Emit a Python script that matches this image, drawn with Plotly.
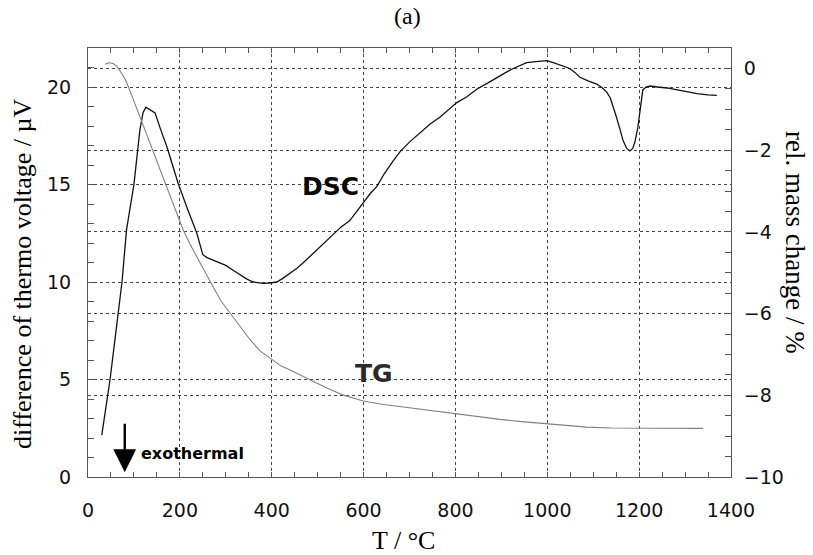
import plotly.graph_objects as go

# ---------------- data ----------------
T_dsc = [30, 41, 48, 60, 74, 84, 100, 113, 120, 126, 134, 146, 160, 172, 184, 196,
         215, 237, 244, 250, 259, 270, 287, 300, 316, 330, 346, 360, 381, 395, 411,
         425, 440, 455, 468, 483, 498, 515, 533, 550, 570, 585, 603, 615, 629, 645,
         664, 680, 701, 715, 729, 745, 766, 785, 803, 825, 847, 870, 891, 910, 926,
         940, 955, 975, 999, 1013, 1030, 1049, 1060, 1071, 1090, 1108, 1120, 1129,
         1137, 1143, 1150, 1158, 1165, 1173, 1180, 1186, 1191, 1197, 1202, 1208,
         1215, 1224, 1240, 1261, 1289, 1310, 1326, 1350, 1369]
dsc = [2.15, 3.95, 5.0, 7.3, 10.0, 12.7, 15.0, 17.8, 18.7, 18.97, 18.85, 18.67, 17.7,
       16.92, 16.0, 15.08, 13.85, 12.5, 11.9, 11.4, 11.25, 11.15, 11.0, 10.85, 10.6,
       10.4, 10.15, 10.0, 9.93, 9.95, 10.0, 10.2, 10.45, 10.7, 10.97, 11.3, 11.64,
       12.05, 12.45, 12.8, 13.15, 13.6, 14.2, 14.55, 14.9, 15.55, 16.2, 16.7, 17.2,
       17.5, 17.75, 18.1, 18.45, 18.85, 19.2, 19.5, 19.9, 20.2, 20.5, 20.75, 20.95,
       21.1, 21.25, 21.3, 21.35, 21.25, 21.1, 20.95, 20.75, 20.5, 20.3, 20.15, 19.95,
       19.75, 19.45, 19.05, 18.5, 17.85, 17.25, 16.85, 16.72, 16.85, 17.2, 17.9, 18.7,
       19.85, 20.0, 20.05, 20.0, 19.95, 19.83, 19.72, 19.66, 19.6, 19.57]

T_tg = [37, 45, 55, 63, 75, 84, 100, 113, 128, 142, 157, 172, 190, 207, 222, 237,
        250, 261, 272, 290, 316, 335, 353, 375, 400, 420, 440, 465, 490, 520, 555,
        599, 640, 680, 740, 803, 850, 897, 950, 999, 1040, 1086, 1140, 1201, 1270, 1339]
tg = [0.10, 0.14, 0.12, 0.05, -0.15, -0.34, -0.8, -1.18, -1.62, -2.06, -2.48, -2.89,
      -3.42, -3.95, -4.3, -4.62, -4.9, -5.12, -5.34, -5.7, -6.08, -6.38, -6.64, -6.92,
      -7.13, -7.28, -7.38, -7.52, -7.67, -7.82, -7.99, -8.14, -8.22, -8.28, -8.37,
      -8.45, -8.52, -8.59, -8.65, -8.7, -8.74, -8.78, -8.8, -8.8, -8.81, -8.81]

x_ticks = [0, 200, 400, 600, 800, 1000, 1200, 1400]
y_left_ticks = [0, 5, 10, 15, 20]
y_right_ticks = [-10, -8, -6, -4, -2, 0]

# ---------------- figure ----------------
W, H = 813, 555
# plot frame in window pixels: x 88..731, y 48..477
ML, MT = 88, 48
MR = W - 731
MB = H - 477

grid_col = "#444444"
line_col = "#555555"
tick_font = dict(family="DejaVu Sans", size=19, color="#111111")
serif = "Liberation Serif"

fig = go.Figure()
fig.add_trace(go.Scatter(x=T_dsc, y=dsc, mode="lines", yaxis="y",
                         line=dict(color="#111111", width=1.3), showlegend=False))
fig.add_trace(go.Scatter(x=T_tg, y=tg, mode="lines", yaxis="y2",
                         line=dict(color="#808080", width=1.1), showlegend=False))

fig.update_layout(
    width=W, height=H,
    margin=dict(l=ML, r=MR, t=MT, b=MB, autoexpand=False),
    paper_bgcolor="white", plot_bgcolor="white",
    xaxis=dict(range=[0, 1400], tickvals=x_ticks, ticks="inside", ticklen=5,
               tickcolor=line_col, showline=True, linecolor=line_col, linewidth=1,
               mirror="ticks", showgrid=True, gridcolor=grid_col, griddash="dot",
               gridwidth=1, zeroline=False, tickfont=tick_font, ticklabelstandoff=16,
               minor=dict(dtick=50, tick0=0, ticks="inside", ticklen=5,
                          tickcolor=line_col, showgrid=False)),
    yaxis=dict(range=[0, 22], tickvals=y_left_ticks, ticks="inside", ticklen=6,
               tickcolor=line_col, showline=True, linecolor=line_col, linewidth=1,
               showgrid=True, gridcolor=grid_col, griddash="dot", gridwidth=1,
               zeroline=False, tickfont=tick_font, ticklabelstandoff=12,
               minor=dict(dtick=1, tick0=0, ticks="inside", ticklen=6,
                          tickcolor=line_col, showgrid=False)),
    yaxis2=dict(range=[-10, 0.5], tickvals=y_right_ticks, overlaying="y", side="right",
                ticks="inside", ticklen=6, tickcolor=line_col, showline=True,
                linecolor=line_col, linewidth=1, showgrid=True, gridcolor=grid_col,
                griddash="dot", gridwidth=1, zeroline=False, tickfont=tick_font,
                ticklabelstandoff=8,
                minor=dict(dtick=0.5, tick0=0, ticks="inside", ticklen=6,
                           tickcolor=line_col, showgrid=False)),
)

PW = W - ML - MR
PH = H - MT - MB


def px_to_paper(px, py):
    """window pixel -> paper coordinates"""
    return (px - ML) / PW, (H - MB - py) / PH


anns = []
# panel label
x, y = px_to_paper(407, 16)
anns.append(dict(text="(a)", x=x, y=y, xref="paper", yref="paper", showarrow=False,
                 font=dict(family=serif, size=24, color="black"),
                 xanchor="center", yanchor="middle"))
# x title
x, y = px_to_paper(403, 540)
anns.append(dict(text="T / °C", x=x, y=y, xref="paper", yref="paper", showarrow=False,
                 font=dict(family=serif, size=26, color="black"),
                 xanchor="center", yanchor="middle"))
# left title
x, y = px_to_paper(22, 274)
anns.append(dict(text="difference of thermo voltage / µV", x=x, y=y, xref="paper",
                 yref="paper", showarrow=False, textangle=-90,
                 font=dict(family=serif, size=26, color="black"),
                 xanchor="center", yanchor="middle"))
# right title
x, y = px_to_paper(795, 242)
anns.append(dict(text="rel. mass change / %", x=x, y=y, xref="paper", yref="paper",
                 showarrow=False, textangle=90,
                 font=dict(family=serif, size=27, color="black"),
                 xanchor="center", yanchor="middle"))
# curve labels
anns.append(dict(text="<b>DSC</b>", x=527, y=14.9, xref="x", yref="y", showarrow=False,
                 font=dict(family="DejaVu Sans", size=25, color="#0a0a0a"),
                 xanchor="center", yanchor="middle"))
anns.append(dict(text="<b>TG</b>", x=623, y=5.33, xref="x", yref="y", showarrow=False,
                 font=dict(family="DejaVu Sans", size=25, color="#2a2a2a"),
                 xanchor="center", yanchor="middle"))
# exothermal arrow and text
anns.append(dict(text="", x=80, y=0.25, xref="x", yref="y", showarrow=True,
                 ax=0, ay=-50, axref="pixel", ayref="pixel", arrowhead=2,
                 arrowsize=1.9, arrowwidth=2.4, arrowcolor="black"))
anns.append(dict(text="<b>exothermal</b>", x=111, y=1.18, xref="x", yref="y",
                 showarrow=False, font=dict(family="DejaVu Sans", size=16, color="black"),
                 xanchor="left", yanchor="middle"))
fig.update_layout(annotations=anns)

# remove the default 8px page margin so the 813x555 figure fills the window exactly
fig.write_html("out.html",
               config={"displayModeBar": False},
               post_script="document.body.style.margin='0';"
                           "document.body.style.overflow='hidden';")
